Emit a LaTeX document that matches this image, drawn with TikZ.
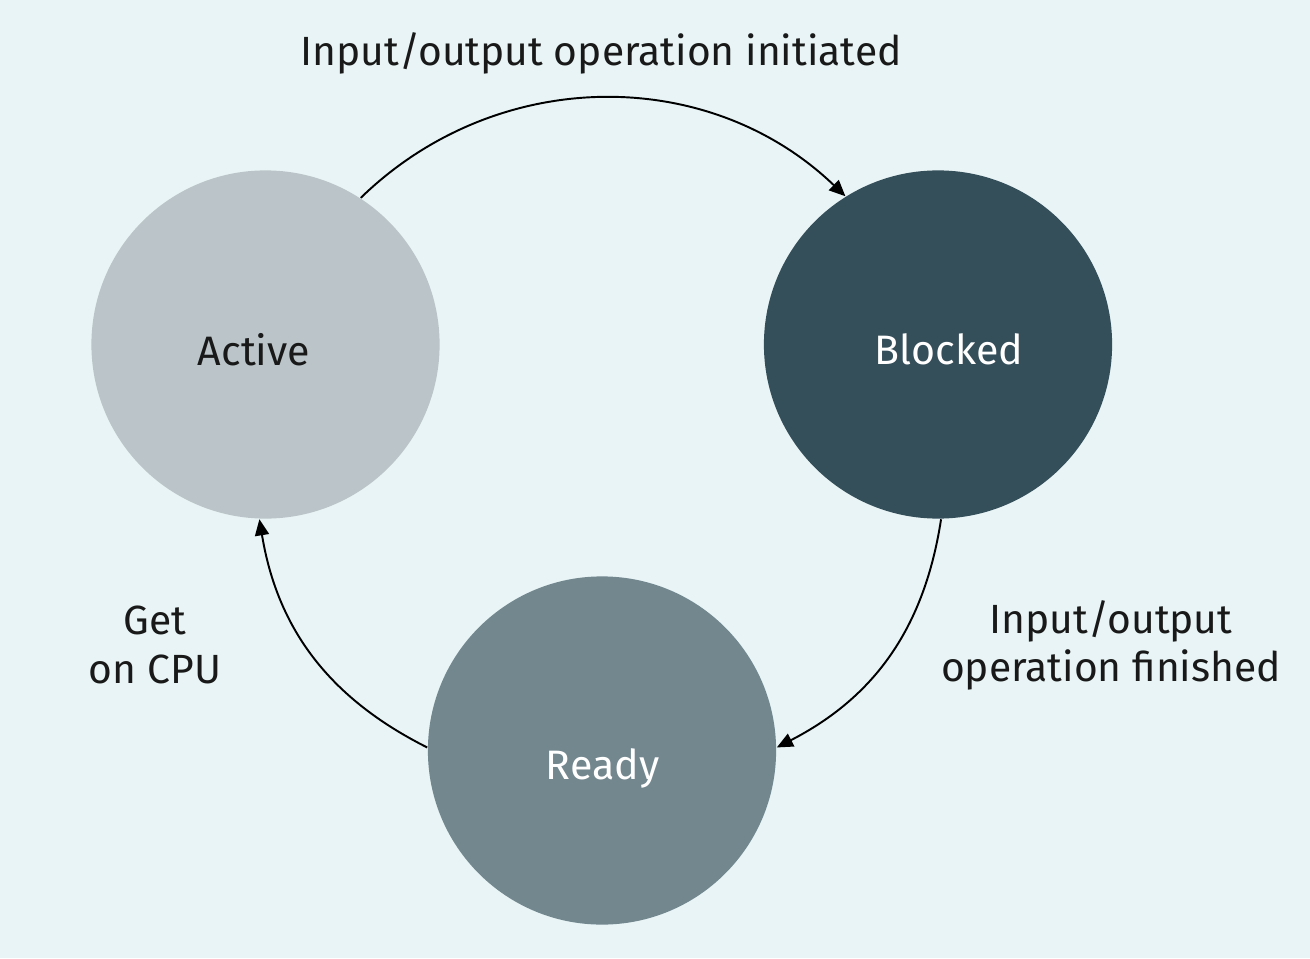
\documentclass[tikz,border=0pt]{standalone}
\usepackage{fontspec}
\setmainfont{Fira Sans}
\usetikzlibrary{arrows.meta}

\definecolor{bgblue}{HTML}{E8F4F5}
\definecolor{activegray}{HTML}{BBC5C9}
\definecolor{blockedslate}{HTML}{344E5A}
\definecolor{readygray}{HTML}{73878F}

\tikzset{
  state/.style={circle, minimum size=3.48cm, inner sep=0pt, draw=none},
  statetext/.style={font=\fontsize{11.7}{13.7}\selectfont},
  trans/.style={-{Triangle[length=4.6pt,width=4pt]}, line width=0.55pt, black},
  translabel/.style={align=center, font=\fontsize{11.6}{13.7}\selectfont, text=black!90}
}

\begin{document}
\begin{tikzpicture}[x=0.01cm, y=-0.01cm]
\fill[bgblue] (0,0) rectangle (1310,958);
\useasboundingbox (0,0) rectangle (1310,958);

% states
\node[state, fill=activegray,
  label={[statetext, text=black!90, xshift=-0.115cm, yshift=-0.05cm]center:Active}] (active) at (265.5,344.5) {};
\node[state, fill=blockedslate,
  label={[statetext, text=white, xshift=0.11cm, yshift=-0.05cm]center:Blocked}] (blocked) at (938,344.5) {};
\node[state, fill=readygray,
  label={[statetext, text=white, xshift=0.005cm, yshift=-0.18cm]center:Ready}] (ready) at (602,750.5) {};

% transitions
\draw[trans] (active.57) to[bend left=44] (blocked.122);
\draw[trans] (blocked.-89) to[bend left=27] (ready.1);
\draw[trans] (ready.179) to[bend left=27] (active.-92);

% labels
\node[translabel] (initiated) at (601,53) {Input/output operation initiated};
\node[translabel] (getcpu) at (155,645) {Get\\on CPU};
\node[translabel] (finished) at (1111,645) {Input/output\\operation finished};
\end{tikzpicture}
\end{document}
